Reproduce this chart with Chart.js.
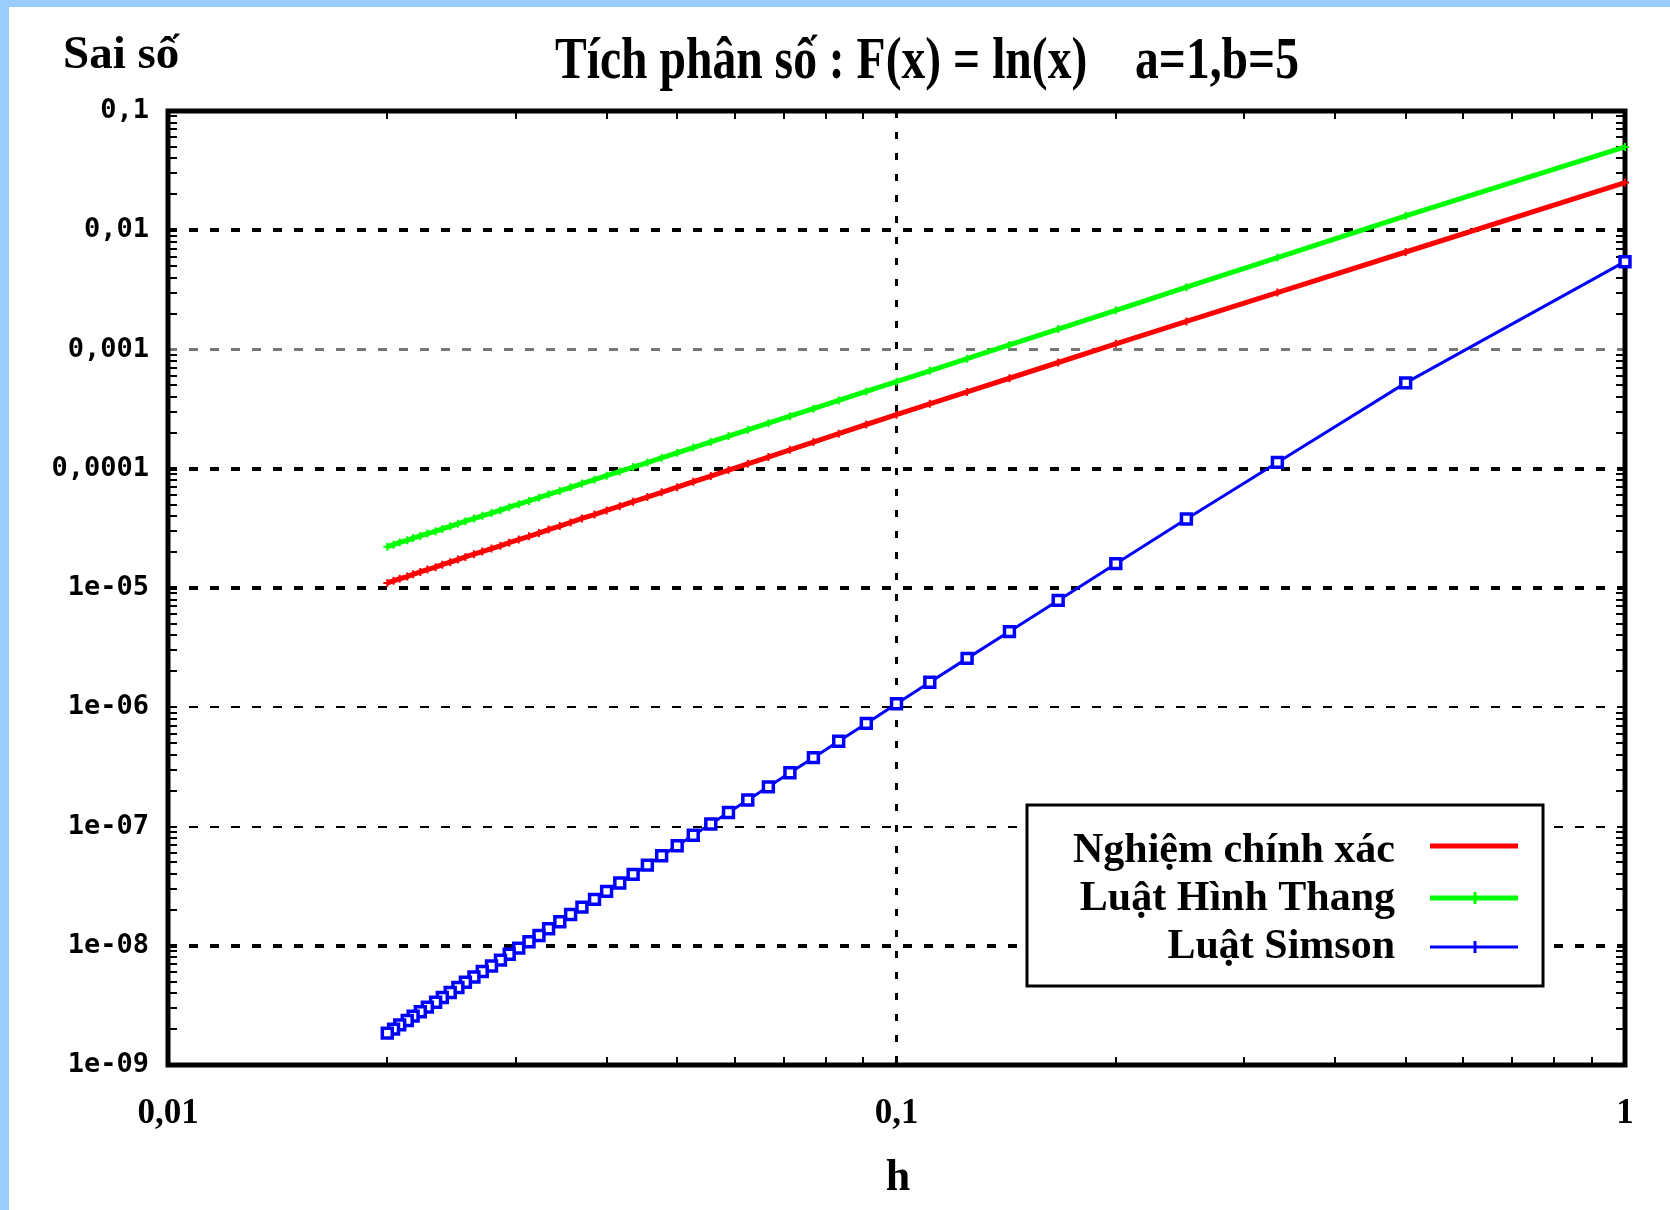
<!DOCTYPE html>
<html>
<head>
<meta charset="utf-8">
<title>Tích phân số</title>
<script src="https://cdn.jsdelivr.net/npm/chart.js@4.4.1/dist/chart.umd.min.js"></script>
<style>
  html, body { margin: 0; padding: 0; background: #fff; }
  #errChart { display: block; }
</style>
</head>
<body>
<canvas id="errChart" width="1670" height="1210"></canvas>
<script>
// step sizes h (n = 4, 8, ..., 200 sub-intervals on [1, 5])
const hValues = [1, 0.5, 0.3333, 0.25, 0.2, 0.1667, 0.1429, 0.125, 0.1111, 0.1,
  0.0909, 0.0833, 0.0769, 0.0714, 0.0667, 0.0625, 0.0588, 0.0556, 0.0526, 0.05,
  0.0476, 0.0455, 0.0435, 0.0417, 0.04, 0.0385, 0.037, 0.0357, 0.0345, 0.0333,
  0.0323, 0.0313, 0.0303, 0.0294, 0.0286, 0.0278, 0.027, 0.0263, 0.0256, 0.025,
  0.0244, 0.0238, 0.0233, 0.0227, 0.0222, 0.0217, 0.0213, 0.0208, 0.0204, 0.02];

const exactErr = [0.0251, 6.57e-3, 3.00e-3, 1.718e-3, 1.115e-3, 7.78e-4, 5.74e-4, 4.41e-4, 3.50e-4, 2.84e-4,
  2.35e-4, 1.97e-4, 1.674e-4, 1.441e-4, 1.254e-4, 1.101e-4, 9.74e-5, 8.68e-5, 7.78e-5, 7.01e-5,
  6.35e-5, 5.79e-5, 5.29e-5, 4.85e-5, 4.47e-5, 4.13e-5, 3.83e-5, 3.55e-5, 3.31e-5, 3.09e-5,
  2.89e-5, 2.71e-5, 2.55e-5, 2.40e-5, 2.26e-5, 2.14e-5, 2.02e-5, 1.92e-5, 1.82e-5, 1.73e-5,
  1.645e-5, 1.567e-5, 1.494e-5, 1.426e-5, 1.363e-5, 1.304e-5, 1.248e-5, 1.196e-5, 1.148e-5, 1.102e-5];

const trapErr = [0.0500, 0.01321, 5.90e-3, 3.33e-3, 2.13e-3, 1.484e-3, 1.092e-3, 8.37e-4, 6.62e-4, 5.37e-4,
  4.45e-4, 3.74e-4, 3.19e-4, 2.76e-4, 2.41e-4, 2.12e-4, 1.88e-4, 1.68e-4, 1.507e-4, 1.361e-4,
  1.236e-4, 1.127e-4, 1.032e-4, 9.49e-5, 8.75e-5, 8.10e-5, 7.51e-5, 6.99e-5, 6.52e-5, 6.10e-5,
  5.72e-5, 5.37e-5, 5.05e-5, 4.76e-5, 4.49e-5, 4.25e-5, 4.03e-5, 3.82e-5, 3.63e-5, 3.45e-5,
  3.29e-5, 3.13e-5, 2.99e-5, 2.86e-5, 2.73e-5, 2.62e-5, 2.51e-5, 2.41e-5, 2.31e-5, 2.22e-5];

const simpsonErr = [5.45e-3, 5.25e-4, 1.13e-4, 3.79e-5, 1.60e-5, 7.87e-6, 4.31e-6, 2.57e-6, 1.62e-6, 1.07e-6,
  7.32e-7, 5.19e-7, 3.78e-7, 2.82e-7, 2.15e-7, 1.67e-7, 1.31e-7, 1.05e-7, 8.45e-8, 6.90e-8,
  5.69e-8, 4.74e-8, 3.97e-8, 3.36e-8, 2.86e-8, 2.45e-8, 2.11e-8, 1.83e-8, 1.59e-8, 1.39e-8,
  1.22e-8, 1.08e-8, 9.55e-9, 8.49e-9, 7.57e-9, 6.77e-9, 6.08e-9, 5.47e-9, 4.94e-9, 4.47e-9,
  4.05e-9, 3.68e-9, 3.36e-9, 3.06e-9, 2.80e-9, 2.57e-9, 2.36e-9, 2.17e-9, 2.00e-9, 1.85e-9];

const seriesNames = ['Nghiệm chính xác', 'Luật Hình Thang', 'Luật Simson'];
const yTicks = [0.1, 0.01, 0.001, 0.0001, 1e-5, 1e-6, 1e-7, 1e-8, 1e-9];
const yTickLabels = ['0,1', '0,01', '0,001', '0,0001', '1e-05', '1e-06', '1e-07', '1e-08', '1e-09'];
const xTicks = [0.01, 0.1, 1];
const xTickLabels = ['0,01', '0,1', '1'];
const chartTitle = 'Tích phân số : F(x) = ln(x)    a=1,b=5';
const yTitle = 'Sai số';
const xTitle = 'h';

function toPoints(ys) {
  return hValues.map((h, i) => ({x: h, y: ys[i]}));
}

function sameDecade(a, b) {
  return Math.abs(Math.log10(a) - Math.log10(b)) < 1e-6;
}

function labelFor(list, labels, v) {
  const i = list.findIndex(t => sameDecade(t, v));
  return i < 0 ? '' : labels[i];
}

// text squeezed horizontally into a given width
function squeezeText(ctx, text, x, y, font, width) {
  ctx.save();
  ctx.font = font;
  const k = width / ctx.measureText(text).width;
  ctx.translate(x, y);
  ctx.scale(k, 1);
  ctx.textAlign = 'center';
  ctx.textBaseline = 'alphabetic';
  ctx.fillText(text, 0, 0);
  ctx.restore();
}

const framePlugin = {
  id: 'frame',
  beforeDraw(chart) {
    const ctx = chart.ctx;
    ctx.save();
    ctx.fillStyle = '#fff';
    ctx.fillRect(0, 0, chart.width, chart.height);
    ctx.fillStyle = '#99ccff';
    ctx.fillRect(0, 0, chart.width, 7);
    ctx.fillRect(0, 0, 9, chart.height);
    ctx.restore();
  },
  beforeDatasetsDraw(chart) {
    const {ctx, chartArea: a, scales: {x, y}} = chart;
    ctx.save();
    ctx.strokeStyle = '#000';
    ctx.lineWidth = 5;
    ctx.strokeRect(a.left, a.top, a.right - a.left, a.bottom - a.top);

    // small inward ticks at 2..9 of every decade
    ctx.lineWidth = 2;
    ctx.beginPath();
    yTicks.slice(1).forEach(d => {
      for (let k = 2; k <= 9; k++) {
        const py = Math.round(y.getPixelForValue(k * d));
        ctx.moveTo(a.left, py); ctx.lineTo(a.left + 9, py);
        ctx.moveTo(a.right, py); ctx.lineTo(a.right - 9, py);
      }
    });
    xTicks.slice(0, -1).forEach(d => {
      for (let k = 2; k <= 9; k++) {
        const px = Math.round(x.getPixelForValue(k * d));
        ctx.moveTo(px, a.bottom); ctx.lineTo(px, a.bottom - 8);
        ctx.moveTo(px, a.top); ctx.lineTo(px, a.top + 8);
      }
    });
    ctx.stroke();
    ctx.restore();
  },
  afterDraw(chart) {
    const ctx = chart.ctx;
    ctx.save();
    ctx.fillStyle = '#000';
    squeezeText(ctx, chartTitle, 927, 78, 'bold 60px "Liberation Serif"', 744);
    ctx.font = 'bold 47px "Liberation Serif"';
    ctx.textAlign = 'left';
    ctx.textBaseline = 'alphabetic';
    ctx.fillText(yTitle, 63, 68);
    ctx.font = 'bold 44px "Liberation Serif"';
    ctx.textAlign = 'center';
    ctx.fillText(xTitle, 898, 1190);
    ctx.restore();
  }
};

const boxLegend = {
  id: 'boxLegend',
  afterDatasetsDraw(chart) {
    const ctx = chart.ctx;
    const left = 1027, top = 805, right = 1543, bottom = 986;
    const baselines = [862, 910, 958];
    const lineYs = [846, 898, 947];
    ctx.save();
    ctx.fillStyle = '#fff';
    ctx.fillRect(left, top, right - left, bottom - top);
    ctx.strokeStyle = '#000';
    ctx.lineWidth = 3;
    ctx.strokeRect(left, top, right - left, bottom - top);

    chart.data.datasets.forEach((ds, i) => {
      ctx.fillStyle = '#000';
      ctx.font = 'bold 42px "Liberation Serif"';
      ctx.textAlign = 'right';
      ctx.textBaseline = 'alphabetic';
      ctx.fillText(ds.label, 1395, baselines[i]);

      ctx.strokeStyle = ds.borderColor;
      ctx.lineWidth = i === 2 ? 3 : 5;
      ctx.beginPath();
      ctx.moveTo(1430, lineYs[i]);
      ctx.lineTo(1518, lineYs[i]);
      ctx.stroke();
      if (i > 0) {
        ctx.lineWidth = 3;
        ctx.beginPath();
        ctx.moveTo(1475, lineYs[i] - 6);
        ctx.lineTo(1475, lineYs[i] + 6);
        ctx.stroke();
      }
    });
    ctx.restore();
  }
};

new Chart(document.getElementById('errChart'), {
  type: 'line',
  data: {
    datasets: [{
      label: seriesNames[0],
      data: toPoints(exactErr),
      borderColor: '#ff0000',
      backgroundColor: '#ff0000',
      borderWidth: 5,
      pointStyle: 'cross',
      pointRadius: 4,
      pointBorderWidth: 2,
      clip: false
    }, {
      label: seriesNames[1],
      data: toPoints(trapErr),
      borderColor: '#00ff00',
      backgroundColor: '#00ff00',
      borderWidth: 5,
      pointStyle: 'cross',
      pointRadius: 4,
      pointBorderWidth: 2,
      clip: false
    }, {
      label: seriesNames[2],
      data: toPoints(simpsonErr),
      borderColor: '#0000ff',
      backgroundColor: '#0000ff',
      borderWidth: 3,
      pointStyle: 'rect',
      pointRadius: 7,
      pointBorderWidth: 3.5,
      pointBackgroundColor: '#ffffff',
      clip: false
    }]
  },
  options: {
    responsive: false,
    animation: false,
    devicePixelRatio: 1,
    layout: { padding: { left: 0, top: 111, right: 45, bottom: 75 } },
    plugins: {
      legend: { display: false },
      title: { display: false },
      tooltip: { enabled: false }
    },
    scales: {
      x: {
        type: 'logarithmic',
        min: 0.01,
        max: 1,
        afterBuildTicks: s => { s.ticks = xTicks.map(v => ({value: v})); },
        afterFit: s => { s.height = 70; },
        ticks: {
          callback: v => labelFor(xTicks, xTickLabels, v),
          color: '#000',
          font: { family: 'Liberation Serif', size: 35, weight: 'bold' },
          padding: 28,
          maxRotation: 0,
          autoSkip: false
        },
        grid: {
          color: c => (c.tick && sameDecade(c.tick.value, 0.1)) ? '#000' : 'rgba(0,0,0,0)',
          lineWidth: 3,
          drawTicks: false
        },
        border: { display: false, dash: [7, 14] }
      },
      y: {
        type: 'logarithmic',
        min: 1e-9,
        max: 0.1,
        afterBuildTicks: s => { s.ticks = yTicks.map(v => ({value: v})); },
        afterFit: s => { s.width = 168; },
        ticks: {
          callback: v => labelFor(yTicks, yTickLabels, v),
          color: '#000',
          font: { family: 'DejaVu Sans Mono', size: 27, weight: 'bold' },
          padding: 19,
          autoSkip: false
        },
        grid: {
          color: c => (c.tick && sameDecade(c.tick.value, 0.001)) ? '#777' : '#000',
          lineWidth: c => {
            const v = c.tick ? c.tick.value : 0;
            if (sameDecade(v, 1e-6) || sameDecade(v, 1e-7)) return 2;
            if (sameDecade(v, 0.001)) return 3;
            return 4;
          },
          drawTicks: false
        },
        border: { display: false, dash: [9, 12] }
      }
    }
  },
  plugins: [framePlugin, boxLegend]
});
</script>
</body>
</html>
